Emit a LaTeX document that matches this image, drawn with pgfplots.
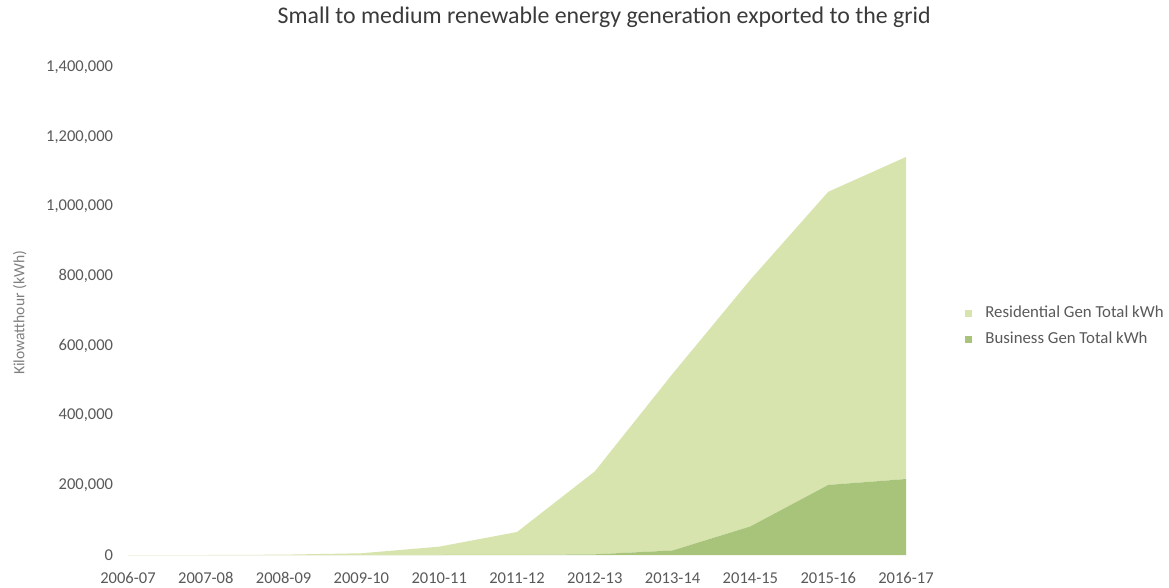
\documentclass[border=0pt]{standalone}
\usepackage{pgfplots}
\pgfplotsset{compat=1.18}
\usepackage{fontspec}
\setmainfont{Carlito}

\definecolor{resgreen}{HTML}{D7E4AE}
\definecolor{busgreen}{HTML}{A8C37A}
\definecolor{titlegrey}{HTML}{3A3A3A}
\definecolor{tickgrey}{HTML}{595959}
\definecolor{labelgrey}{HTML}{7F7F7F}

\begin{document}
\begin{tikzpicture}
\useasboundingbox (0,0) rectangle (876.75pt,440.25pt);
\begin{axis}[
  at={(96pt,24pt)}, anchor=south west,
  scale only axis,
  width=583.5pt, height=366pt,
  xmin=0, xmax=10,
  ymin=0, ymax=1400000,
  xtick={0,...,10},
  xticklabels={2006-07,2007-08,2008-09,2009-10,2010-11,2011-12,2012-13,2013-14,2014-15,2015-16,2016-17},
  ytick={0,200000,...,1400000},
  scaled y ticks=false,
  /pgf/number format/assume math mode=true,
  /pgf/number format/fixed,
  /pgf/number format/precision=0,
  /pgf/number format/1000 sep={,},
  tick label style={font=\fontsize{12.4}{14}\selectfont, text=tickgrey},
  yticklabel style={inner sep=0pt, anchor=east, xshift=-11pt},
  xticklabel style={inner sep=0pt, anchor=north, yshift=-13pt},
  axis line style={draw=none},
  tick style={draw=none},
  title={Small to medium renewable energy generation exported to the grid},
  title style={at={(0.612,1.072)}, anchor=base, inner sep=0pt, yshift=0pt,
    font=\fontsize{17.9}{20}\selectfont, text=titlegrey},
  ylabel={Kilowatthour (kWh)},
  ylabel style={at={(axis description cs:-0.139,0.496)}, anchor=center,
    font=\fontsize{11.7}{13}\selectfont, text=labelgrey},
  stack plots=y,
  reverse legend,
  legend style={at={(1.076,0.469)}, anchor=west, draw=none, fill=none,
    inner sep=0pt, row sep=7.5pt,
    font=\fontsize{12.6}{14}\selectfont, text=tickgrey,
    nodes={inner sep=0pt, anchor=west, text height=9pt, text depth=3pt}},
  legend image code/.code={
    \fill[#1] (0pt,-2.6pt) rectangle (5.2pt,2.6pt);
    \path (15pt,0pt);
  },
]
% business generation sits at the bottom of the stack
\addplot[fill=busgreen, draw=none] coordinates {
  (0,0) (1,0) (2,0) (3,0) (4,0) (5,500) (6,2000)
  (7,13000) (8,82000) (9,201000) (10,218000)
} \closedcycle;
\addlegendentry{Business Gen Total kWh}
% residential generation stacked on top
\addplot[fill=resgreen, draw=none] coordinates {
  (0,0) (1,0) (2,1000) (3,5000) (4,24000) (5,65500) (6,238000)
  (7,507000) (8,708000) (9,841000) (10,924000)
} \closedcycle;
\addlegendentry{Residential Gen Total kWh}
\end{axis}
\end{tikzpicture}
\end{document}
